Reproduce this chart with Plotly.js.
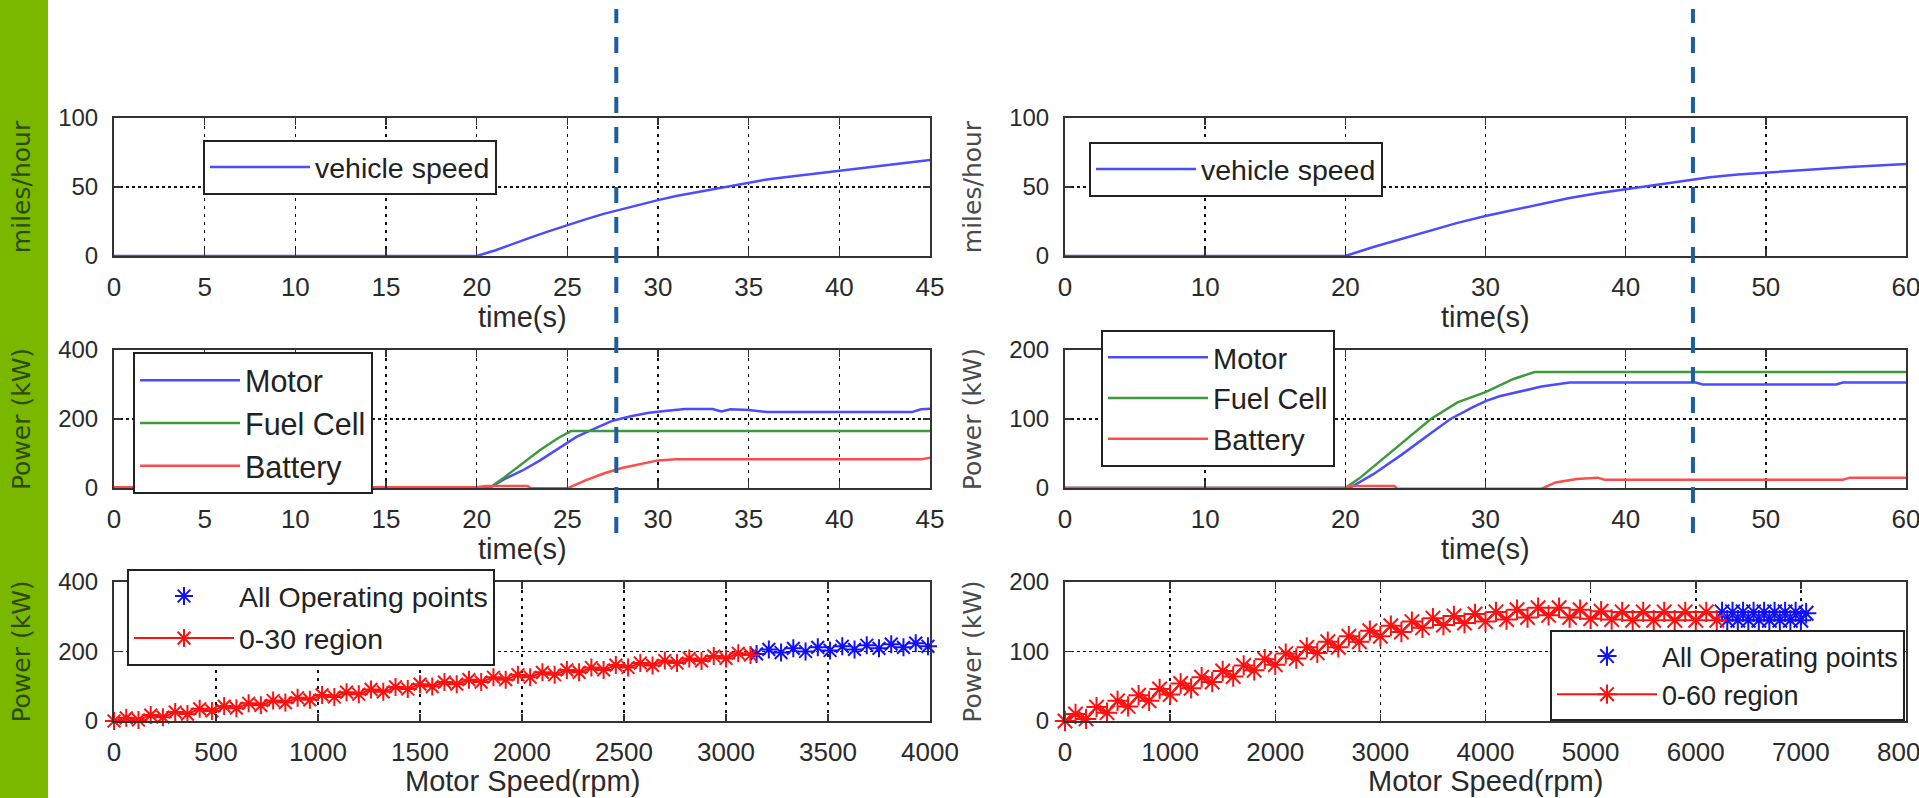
<!DOCTYPE html>
<html>
<head>
<meta charset="utf-8">
<script src="https://cdn.plot.ly/plotly-3.0.1.min.js"></script>
<style>
html,body{margin:0;padding:0;background:#ffffff;}
#chart{width:1919px;height:798px;}
</style>
</head>
<body>
<div id="chart"></div>
<script>
// ---------- DATA ----------
// Left column (0-30 mph test), time in s
const tlTime  = [0, 20, 21, 22, 23, 24, 25, 26, 27, 28, 29, 30, 31, 32, 33, 34, 35, 36, 37, 38, 39, 40, 41, 42, 43, 44, 45];
const tlSpeed = [0, 0, 4, 9, 13.5, 18, 22.5, 26.5, 30.5, 34, 37.5, 40.5, 43.5, 46, 48.5, 51, 53.5, 55.5, 57, 58.5, 60, 61.5, 63, 64.5, 66, 67.5, 69.5];

// Right column (0-60 mph test)
const trTime  = [0, 20, 22, 24, 26, 28, 30, 32, 34, 36, 38, 40, 42, 44, 46, 48, 50, 52, 54, 56, 58, 60];
const trSpeed = [0, 0, 6.5, 12.5, 18.5, 24, 29, 33.5, 38, 42, 45.5, 48.5, 51.5, 54.5, 57, 59, 60.5, 62, 63.2, 64.5, 65.6, 66.7];

// Middle-left power (kW)
const mlMotorT = [0, 20, 20.7, 21.5, 22.5, 23.5, 24.5, 25.5, 26.5, 27.5, 28.5, 29.5, 30.5, 31.5, 33, 33.5, 34, 35, 36, 44, 44.5, 45];
const mlMotorP = [0, 0, 0, 25, 50, 80, 115, 148, 172, 195, 208, 218, 224, 229, 229, 222, 228, 226, 220, 220, 228, 230];
const mlFcT    = [0, 20, 20.7, 21.5, 22.5, 23.5, 24.5, 25.2, 45];
const mlFcP    = [0, 0, 0, 30, 70, 110, 145, 165, 165];
const mlBatT   = [0, 20, 20.5, 22.8, 23, 25, 26, 27, 28, 29, 30, 31, 44.5, 45];
const mlBatP   = [2, 2, 6, 6, -1, -1, 22, 42, 58, 70, 80, 83, 83, 88];

// Middle-right power (kW)
const mrMotorT = [0, 20.3, 22, 24, 26, 27.5, 29, 30, 31, 32, 33, 34, 35, 36, 45, 45.5, 55, 55.5, 60];
const mrMotorP = [0, 0, 20, 48, 78, 100, 116, 126, 133, 138, 143, 147, 150, 153, 153, 150, 150, 153, 153];
const mrFcT    = [0, 20, 21, 23, 25, 26.1, 28, 30, 32, 33.5, 60];
const mrFcP    = [0, 0, 14, 48, 82, 100, 124, 139, 158, 168, 168];
const mrBatT   = [0, 20, 20.3, 23.5, 23.7, 34, 35, 36.5, 38, 38.5, 55.5, 56, 60];
const mrBatP   = [0, 0, 3, 3, -1, -1, 8, 13, 15, 12, 12, 15, 15];

// Bottom-left operating points (rpm, kW)
const blRegionRpm = [0, 60, 120, 180, 240, 300, 360, 420, 480, 540, 600, 660, 720, 780, 840, 900, 960, 1020, 1080, 1140, 1200, 1260, 1320, 1380, 1440, 1500, 1560, 1620, 1680, 1740, 1800, 1860, 1920, 1980, 2040, 2100, 2160, 2220, 2280, 2340, 2400, 2460, 2520, 2580, 2640, 2700, 2760, 2820, 2880, 2940, 3000, 3060, 3120];
const blRegionKw  = [0, 9, 3, 17, 11, 26, 20, 35, 29, 43, 37, 51, 45, 59, 53, 67, 61, 75, 69, 83, 77, 91, 84, 98, 92, 106, 99, 112, 106, 119, 112, 126, 119, 133, 126, 140, 133, 147, 140, 154, 147, 161, 154, 167, 160, 174, 167, 180, 173, 187, 180, 195, 190];
const blAllRpm = [3150, 3210, 3270, 3330, 3390, 3450, 3510, 3570, 3630, 3690, 3750, 3810, 3870, 3930, 3990];
const blAllKw  = [193, 206, 197, 209, 200, 212, 203, 215, 206, 218, 209, 221, 212, 224, 215];

// Bottom-right operating points (rpm, kW)
const brRegionRpm = [0, 100, 200, 300, 400, 500, 600, 700, 800, 900, 1000, 1100, 1200, 1300, 1400, 1500, 1600, 1700, 1800, 1900, 2000, 2100, 2200, 2300, 2400, 2500, 2600, 2700, 2800, 2900, 3000, 3100, 3200, 3300, 3400, 3500, 3600, 3700, 3800, 3900, 4000, 4100, 4200, 4300, 4400, 4500, 4600, 4700, 4800, 4900, 5000, 5100, 5200, 5300, 5400, 5500, 5600, 5700, 5800, 5900, 6000, 6100, 6200];
const brRegionKw  = [0, 10, 3, 20, 12, 29, 21, 37, 29, 46, 38, 54, 47, 63, 56, 72, 64, 80, 73, 89, 81, 97, 90, 106, 98, 114, 106, 122, 114, 130, 122, 137, 128, 143, 134, 148, 138, 151, 141, 154, 143, 157, 146, 160, 149, 163, 152, 163, 149, 160, 147, 158, 146, 157, 145, 157, 145, 157, 145, 157, 145, 157, 145];
const brAllRpm = [6250, 6300, 6350, 6400, 6450, 6500, 6550, 6600, 6650, 6700, 6750, 6800, 6850, 6900, 6950, 7000, 7050, 7030];
const brAllKw  = [157, 145, 157, 145, 157, 145, 157, 145, 157, 145, 157, 145, 157, 145, 157, 145, 155, -4];

// Marked instants (s) on the time axes
const markTimeLeft = 27.7;
const markTimeRight = 44.8;

// ---------- STYLE ----------
const FONT = 'Liberation Sans, Arial, sans-serif';
const BLUE = '#4b4bff', GREEN = '#3d9a3d', RED = '#ff4b4b';
const LX = [114/1919, 930/1919], RX = [1065/1919, 1906/1919];
const TOPY = [1-256/798, 1-118/798], MIDY = [1-488/798, 1-350/798], BOTY = [1-721/798, 1-582/798];

function xa(domain, range, dtick, anchor) {
  return {
    domain: domain, range: range, dtick: dtick, tick0: 0, anchor: anchor,
    showline: true, linecolor: '#333', linewidth: 2, mirror: 'allticks',
    ticks: 'inside', ticklen: 7, tickwidth: 1.5, tickcolor: '#333',
    showgrid: true, gridcolor: '#111', gridwidth: 1.5, griddash: '3px,5px',
    zeroline: false, fixedrange: true, ticklabelstandoff: 7, ticklabeloverflow: 'allow',
    tickfont: {family: FONT, size: 26, color: '#2a2a2a'}
  };
}
function ya(domain, range, dtick, title, anchor, titleColor) {
  return {
    domain: domain, range: range, dtick: dtick, tick0: 0, anchor: anchor,
    showline: true, linecolor: '#333', linewidth: 2, mirror: 'allticks',
    ticks: 'inside', ticklen: 7, tickwidth: 1.5, tickcolor: '#333',
    showgrid: true, gridcolor: '#111', gridwidth: 1.5, griddash: '3px,3px',
    zeroline: false, fixedrange: true, ticklabelstandoff: 9,
    tickfont: {family: FONT, size: 24, color: '#2a2a2a'},
    title: {text: title, font: {family: 'DejaVu Sans, sans-serif', size: 25, color: titleColor}, standoff: 20}
  };
}
function leg(x, y, gap, size, yanchor) {
  return {
    x: x, y: y, xanchor: 'left', yanchor: yanchor || 'top',
    bgcolor: '#ffffff', bordercolor: '#222', borderwidth: 2,
    font: {family: FONT, size: size, color: '#222'},
    itemwidth: 100, tracegroupgap: gap, traceorder: 'grouped'
  };
}
function xTitle(text, axis, y) {
  return {text: text, xref: axis + ' domain', yref: axis.replace('x', 'y') + ' domain',
          x: 0.5, y: y, xanchor: 'center', yanchor: 'middle', showarrow: false,
          font: {family: FONT, size: 29, color: '#2a2a2a'}};
}
function line(x, y, name, color, xaxis, yaxis, legend) {
  return {type: 'scatter', mode: 'lines', x: x, y: y, name: name, xaxis: xaxis, yaxis: yaxis,
          line: {color: color, width: 2.5}, legend: legend, legendgroup: legend + name, cliponaxis: false};
}
function pts(x, y, name, color, withLine, size, xaxis, yaxis, legend) {
  return {type: 'scatter', mode: withLine ? 'lines+markers' : 'markers', x: x, y: y, name: name,
          xaxis: xaxis, yaxis: yaxis, legend: legend, legendgroup: legend + name, cliponaxis: false,
          marker: {symbol: 'asterisk-open', size: size, color: color, line: {color: color, width: 2}},
          line: {color: color, width: 2}};
}

const LEFTT = '#2d4a00', RIGHTT = '#4a4a4a';

const traces = [
  line(tlTime, tlSpeed, 'vehicle speed', BLUE, 'x', 'y', 'legend'),
  line(trTime, trSpeed, 'vehicle speed', BLUE, 'x2', 'y2', 'legend2'),
  line(mlMotorT, mlMotorP, 'Motor', BLUE, 'x3', 'y3', 'legend3'),
  line(mlFcT, mlFcP, 'Fuel Cell', GREEN, 'x3', 'y3', 'legend3'),
  line(mlBatT, mlBatP, 'Battery', RED, 'x3', 'y3', 'legend3'),
  line(mrMotorT, mrMotorP, 'Motor', BLUE, 'x4', 'y4', 'legend4'),
  line(mrFcT, mrFcP, 'Fuel Cell', GREEN, 'x4', 'y4', 'legend4'),
  line(mrBatT, mrBatP, 'Battery', RED, 'x4', 'y4', 'legend4'),
  pts(blAllRpm, blAllKw, 'All Operating points', '#1010ff', false, 15, 'x5', 'y5', 'legend5'),
  pts(blRegionRpm, blRegionKw, '0-30 region', '#ff1010', true, 15, 'x5', 'y5', 'legend5'),
  pts(brAllRpm, brAllKw, 'All Operating points', '#1010ff', false, 17, 'x6', 'y6', 'legend6'),
  pts(brRegionRpm, brRegionKw, '0-60 region', '#ff1010', true, 17, 'x6', 'y6', 'legend6')
];

const layout = {
  width: 1919, height: 798,
  margin: {l: 0, r: 0, t: 0, b: 0},
  paper_bgcolor: '#ffffff', plot_bgcolor: '#ffffff',
  showlegend: true,
  xaxis:  xa(LX, [0, 45], 5, 'y'),
  yaxis:  ya(TOPY, [0, 100], 50, 'miles/hour', 'x', LEFTT),
  xaxis2: xa(RX, [0, 60], 10, 'y2'),
  yaxis2: ya(TOPY, [0, 100], 50, 'miles/hour', 'x2', RIGHTT),
  xaxis3: xa(LX, [0, 45], 5, 'y3'),
  yaxis3: ya(MIDY, [0, 400], 200, 'Power (kW)', 'x3', LEFTT),
  xaxis4: xa(RX, [0, 60], 10, 'y4'),
  yaxis4: ya(MIDY, [0, 200], 100, 'Power (kW)', 'x4', RIGHTT),
  xaxis5: xa(LX, [0, 4000], 500, 'y5'),
  yaxis5: ya(BOTY, [0, 400], 200, 'Power (kW)', 'x5', LEFTT),
  xaxis6: xa(RX, [0, 8000], 1000, 'y6'),
  yaxis6: ya(BOTY, [0, 200], 100, 'Power (kW)', 'x6', RIGHTT),
  legend:  leg(203/1919, 1-140/798, 0, 28.5),
  legend2: leg(1089/1919, 1-142/798, 0, 28.5),
  legend3: leg(133/1919, 1-352/798, 0, 30.5),
  legend4: leg(1101/1919, 1-330/798, 0, 29),
  legend5: leg(127/1919, 1-569/798, 2, 28.5),
  legend6: leg(1550/1919, 1-721/798, 0, 27, 'bottom'),
  annotations: [
    xTitle('time(s)', 'x', -0.44),
    xTitle('time(s)', 'x2', -0.44),
    xTitle('time(s)', 'x3', -0.44),
    xTitle('time(s)', 'x4', -0.44),
    xTitle('Motor Speed(rpm)', 'x5', -0.435),
    xTitle('Motor Speed(rpm)', 'x6', -0.435)
  ],
  shapes: [
    {type: 'rect', xref: 'paper', yref: 'paper', x0: 0, x1: 48/1919, y0: 0, y1: 1,
     fillcolor: '#7ab800', line: {width: 0}, layer: 'below'},
    {type: 'line', xref: 'x', yref: 'paper', x0: markTimeLeft, x1: markTimeLeft, y0: 1-533/798, y1: 1-9/798,
     line: {color: '#1d5f9e', width: 4, dash: '16px,14px'}, layer: 'above'},
    {type: 'line', xref: 'x2', yref: 'paper', x0: markTimeRight, x1: markTimeRight, y0: 1-533/798, y1: 1-9/798,
     line: {color: '#1d5f9e', width: 4, dash: '16px,14px'}, layer: 'above'}
  ]
};

Plotly.newPlot('chart', traces, layout, {staticPlot: true, displayModeBar: false});
</script>
</body>
</html>
